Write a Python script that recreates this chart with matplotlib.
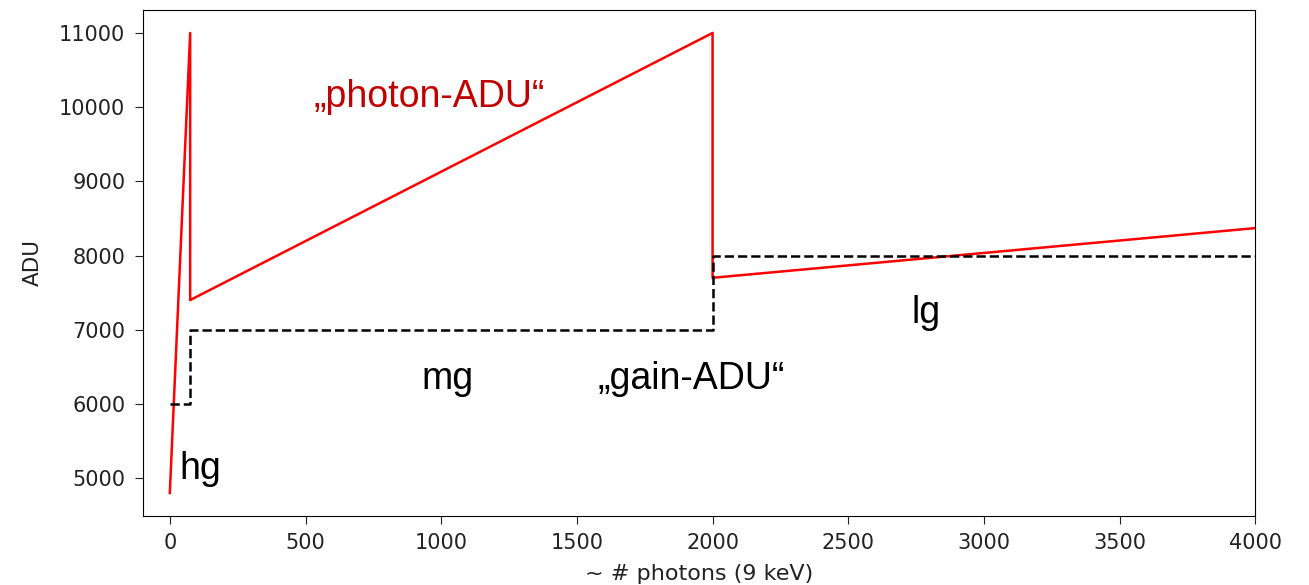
import numpy as np
import matplotlib.pyplot as plt

# photon-ADU (red) and gain-ADU (dashed) curves
photon_x = [0, 75, 75, 2000, 2000, 4000]
photon_adu = [4800, 11000, 7400, 11000, 7700, 8370]
gain_x = [0, 75, 75, 2000, 2000, 4000]
gain_adu = [6000, 6000, 7000, 7000, 8000, 8000]

fig = plt.figure(figsize=(13.09, 5.85), dpi=100)
ax = fig.add_axes([0.109, 0.118, 0.850, 0.865])

ax.plot(photon_x, photon_adu, c='red', lw=1.8)
ax.plot(gain_x, gain_adu, c='black', ls='--', lw=1.8)

ax.set_xlim(-100, 4000)
ax.set_ylim(4490, 11310)
ax.set_xticks(np.arange(0, 4001, 500))
ax.set_yticks(np.arange(5000, 11001, 1000))
ax.tick_params(labelsize=15, colors='#222222', length=5.5, pad=7)
ax.set_xlabel('~ # photons (9 keV)', fontsize=16, labelpad=8, color='#222222')
ax.set_ylabel('ADU', fontsize=15.5, labelpad=12, color='#222222')

fs = 27
ax.text(955, 10135, '\u201ephoton-ADU\u201c', color='#C00000', fontsize=fs,
        family='Liberation Sans', ha='center', va='center')
ax.text(37, 5120, 'hg', fontsize=fs, family='Liberation Sans', ha='left', va='center')
ax.text(1022, 6340, 'mg', fontsize=fs, family='Liberation Sans', ha='center', va='center')
ax.text(1922, 6340, '\u201egain-ADU\u201c', fontsize=fs, family='Liberation Sans',
        ha='center', va='center')
ax.text(2786, 7230, 'lg', fontsize=fs, family='Liberation Sans', ha='center', va='center')

plt.savefig('out.png', dpi=100)
